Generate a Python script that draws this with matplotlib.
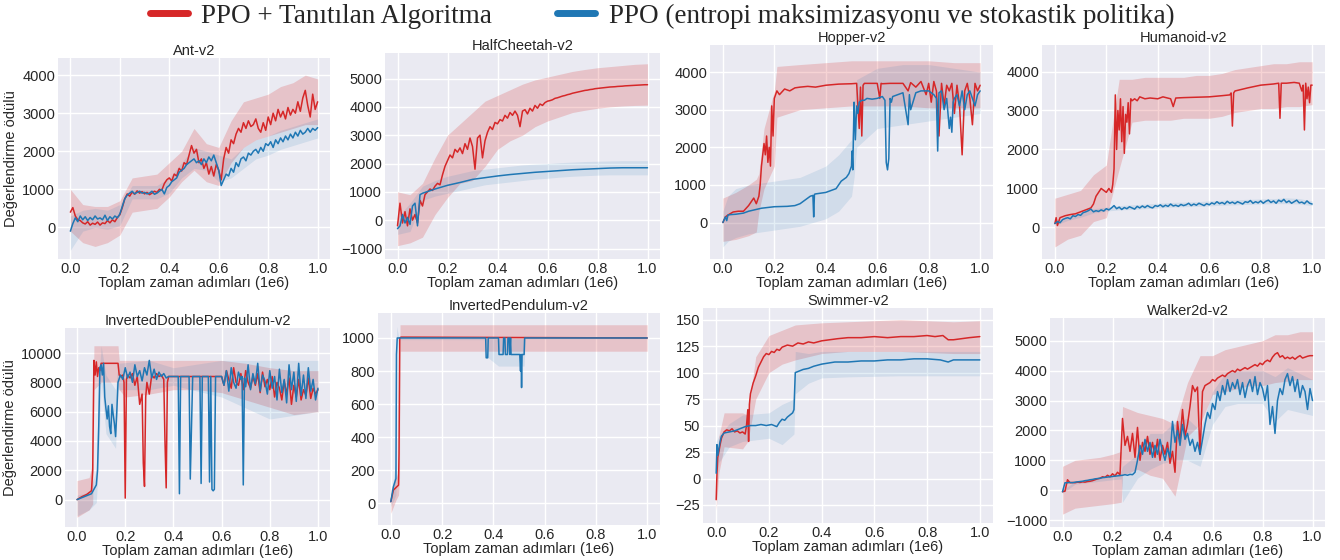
import numpy as np
import matplotlib
matplotlib.use("Agg")
import matplotlib.pyplot as plt
import seaborn as sns
from matplotlib.lines import Line2D

# ---------------- common x grids (in units of 1e6 steps) ----------------
X01 = np.round(np.arange(101) * 0.01, 2)
X05 = np.round(np.arange(21) * 0.05, 2)

LABEL_RED = "PPO + Tanıtılan Algoritma"
LABEL_BLUE = "PPO (entropi maksimizasyonu ve stokastik politika)"
XLABEL = "Toplam zaman adımları (1e6)"
YLABEL = "Değerlendirme ödülü"
TITLES = ["Ant-v2", "HalfCheetah-v2", "Hopper-v2", "Humanoid-v2",
          "InvertedDoublePendulum-v2", "InvertedPendulum-v2", "Swimmer-v2", "Walker2d-v2"]

# ---------------- Ant-v2 ----------------
ANT_RED = [400, 520, 300, 200, 180, 120, 90, 150, 60, 110,
           80, 140, 60, 120, 100, 180, 120, 200, 150, 260,
           330, 520, 750, 880, 820, 930, 870, 960, 900, 940,
           880, 920, 860, 900, 950, 920, 1000, 980, 1150, 1250,
           1300, 1220, 1400, 1350, 1550, 1480, 1700, 1650, 1900, 2150,
           1950, 2050, 1700, 1800, 1550, 1700, 1400, 1600, 1350, 1650,
           1500, 1250, 1800, 2100, 1950, 2300, 2200, 2450, 2600, 2500,
           2750, 2600, 2800, 2650, 2700, 2850, 2600, 2500, 2750, 2550,
           2900, 2700, 3000, 2800, 3100, 2900, 3050, 2850, 3150, 2950,
           3100, 3000, 3300, 3050, 3400, 3600, 3200, 2900, 3500, 3100, 3300]
ANT_BLUE = [-100, 100, 250, 150, 300, 200, 280, 180, 260, 200,
            300, 220, 250, 200, 320, 180, 280, 220, 300, 250,
            350, 550, 750, 850, 900, 950, 880, 920, 950, 900,
            920, 880, 900, 950, 870, 900, 950, 1000, 880, 1050,
            1100, 1200, 1250, 1300, 1450, 1500, 1550, 1650, 1700, 1750,
            1800, 1700, 1750, 1650, 1800, 1700, 1850, 1750, 1900, 1700,
            1500, 1100, 1250, 1400, 1350, 1550, 1450, 1700, 1600, 1800,
            1850, 1750, 1950, 1900, 2000, 2050, 1950, 2100, 2000, 2200,
            2150, 2250, 2100, 2300, 2200, 2350, 2250, 2400, 2300, 2450,
            2350, 2500, 2400, 2550, 2450, 2500, 2600, 2500, 2600, 2550, 2620]
ANT_RED_LO = [-100, -400, -500, -400, -200, 400, 450, 500, 800, 1200, 1500,
              1200, 1100, 1700, 2100, 2300, 2400, 2500, 2600, 2700, 2700]
ANT_RED_HI = [1000, 600, 550, 550, 700, 1300, 1350, 1400, 1700, 2000, 2600,
              2200, 2100, 2800, 3300, 3400, 3500, 3700, 3800, 4000, 3900]
ANT_BLUE_LO = [-600, -100, 0, -50, 50, 750, 750, 750, 900, 1300, 1550,
               1500, 1200, 1300, 1550, 1800, 1900, 2050, 2150, 2250, 2350]
ANT_BLUE_HI = [300, 450, 500, 450, 600, 1100, 1100, 1100, 1300, 1700, 2100,
               2000, 1900, 1800, 2100, 2300, 2400, 2550, 2650, 2750, 2850]

# ---------------- HalfCheetah-v2 ----------------
HC_RED = [-200, 600, -100, 300, -200, 400, 0, 200, -100, 700,
          500, 900, 1000, 1100, 1050, 1200, 1300, 1250, 1600, 1900,
          2100, 2300, 2200, 2500, 2400, 2550, 2350, 2700, 2500, 2900,
          2600, 1800, 2900, 3000, 2200, 2800, 3100, 3300, 3200, 3450,
          3400, 3550, 3500, 3700, 3600, 3800, 3700, 3850, 3700, 3300,
          3850, 3900, 3750, 3950, 3850, 4050, 3950, 4100, 4050, 4150,
          4200, 4220, 4250, 4300, 4320, 4350, 4380, 4400, 4430, 4450,
          4480, 4500, 4520, 4540, 4560, 4580, 4590, 4610, 4620, 4640,
          4650, 4660, 4670, 4680, 4690, 4700, 4705, 4710, 4720, 4725,
          4730, 4740, 4745, 4750, 4755, 4760, 4765, 4770, 4775, 4780, 4780]
HC_BLUE_X = [0, 0.01, 0.02, 0.03, 0.04, 0.05, 0.06, 0.07, 0.08, 0.09,
             0.1, 0.15, 0.2, 0.25, 0.3, 0.35, 0.4, 0.45, 0.5, 0.55,
             0.6, 0.65, 0.7, 0.75, 0.8, 0.85, 0.9, 0.95, 1.0]
HC_BLUE = [-300, -200, 200, -100, 100, -150, 500, 600, -200, 900,
           950, 1100, 1230, 1330, 1440, 1500, 1560, 1610, 1650, 1690,
           1720, 1750, 1780, 1800, 1820, 1840, 1850, 1850, 1850]
HC_RED_LO = [-900, -800, -600, 200, 800, 1300, 1400, 1900, 2500, 2800, 3000,
             3300, 3500, 3650, 3800, 3880, 3950, 4000, 4030, 4050, 4060]
HC_RED_HI = [1000, 900, 1300, 2200, 3000, 3400, 3800, 4200, 4400, 4600, 4800,
             4950, 5050, 5150, 5250, 5320, 5380, 5420, 5460, 5500, 5520]
HC_BLUE_LO = [-500, -400, 700, 850, 950, 1050, 1150, 1250, 1300, 1350, 1400,
              1450, 1480, 1520, 1550, 1570, 1590, 1600, 1600, 1600, 1600]
HC_BLUE_HI = [100, 600, 1200, 1400, 1550, 1650, 1750, 1800, 1850, 1900, 1950,
              1980, 2000, 2030, 2050, 2070, 2080, 2090, 2100, 2100, 2100]

# ---------------- Hopper-v2 ----------------
HOP_RED_X = [0, 0.01, 0.02, 0.04, 0.06, 0.08, 0.1, 0.11, 0.12, 0.13,
             0.14, 0.145, 0.15, 0.16, 0.165, 0.17, 0.175, 0.18, 0.185, 0.19,
             0.195, 0.2, 0.205, 0.21, 0.22, 0.24, 0.26, 0.28, 0.3, 0.33,
             0.36, 0.4, 0.45, 0.5, 0.52, 0.53, 0.535, 0.54, 0.545, 0.55,
             0.6, 0.61, 0.615, 0.62, 0.65, 0.7, 0.72, 0.73, 0.75, 0.77,
             0.79, 0.8, 0.81, 0.82, 0.83, 0.84, 0.85, 0.86, 0.87, 0.88,
             0.89, 0.9, 0.91, 0.92, 0.93, 0.94, 0.95, 0.96, 0.97, 0.98,
             0.99, 1.0]
HOP_RED = [0, 150, 200, 280, 300, 300, 450, 550, 650, 500,
           700, 1000, 1500, 2100, 1800, 2300, 1600, 2000, 1500, 3100,
           2300, 3300, 3400, 3500, 3400, 3550, 3500, 3580, 3600, 3620,
           3600, 3650, 3680, 3690, 3700, 2500, 3600, 2300, 3650, 3700,
           3700, 3300, 3700, 3690, 3700, 3700, 3500, 3720, 3600, 3750,
           3400, 3700, 3200, 3750, 3500, 2300, 3700, 3100, 3650, 3500,
           3700, 2900, 3650, 3100, 1800, 3500, 3700, 3300, 2600, 3700,
           3500, 3650]
HOP_BLUE_X = [0, 0.01, 0.015, 0.02, 0.03, 0.05, 0.08, 0.1, 0.15, 0.2,
              0.25, 0.28, 0.3, 0.32, 0.34, 0.35, 0.353, 0.356, 0.36, 0.38,
              0.4, 0.42, 0.44, 0.45, 0.46, 0.47, 0.48, 0.49, 0.5, 0.502,
              0.505, 0.508, 0.51, 0.512, 0.515, 0.52, 0.525, 0.53, 0.54, 0.55,
              0.56, 0.58, 0.6, 0.62, 0.63, 0.635, 0.64, 0.645, 0.65, 0.655,
              0.66, 0.68, 0.7, 0.72, 0.725, 0.73, 0.75, 0.77, 0.8, 0.82,
              0.83, 0.835, 0.84, 0.85, 0.86, 0.87, 0.88, 0.885, 0.89, 0.895,
              0.9, 0.91, 0.92, 0.93, 0.94, 0.95, 0.96, 0.97, 0.98, 0.99,
              1.0]
HOP_BLUE = [0, 150, 50, 200, 210, 220, 250, 300, 380, 420,
            430, 450, 500, 600, 700, 720, 150, 750, 760, 780,
            800, 850, 900, 1000, 1100, 1150, 1200, 1300, 1500, 1900,
            1400, 2500, 3200, 2800, 2200, 3100, 2900, 3200, 3250, 3250,
            3300, 3280, 3300, 3350, 3250, 1600, 1400, 1700, 3300, 3200,
            3350, 3400, 3450, 2600, 3400, 3000, 3450, 3500, 3500, 3400,
            3300, 1900, 3450, 3500, 3000, 3300, 2500, 2800, 2400, 3200,
            3300, 3400, 3100, 3500, 3000, 3400, 3500, 3300, 3100, 3400,
            3500]
HOP_RED_BX = [0, 0.05, 0.1, 0.13, 0.14, 0.16, 0.2, 0.21, 0.3, 0.4, 0.5, 0.6, 0.7, 0.8, 0.9, 1.0]
HOP_RED_LO = [-500, -450, -350, -250, 300, 900, 1500, 2800, 3000, 3050, 3100, 3100, 3100, 3050, 3050, 3050]
HOP_RED_HI = [650, 800, 1000, 1150, 1300, 2500, 3500, 4150, 4200, 4250, 4300, 4300, 4300, 4300, 4250, 4250]
HOP_BLUE_BX = [0, 0.02, 0.05, 0.1, 0.2, 0.3, 0.4, 0.45, 0.5, 0.51, 0.52, 0.6, 0.7, 0.8, 0.9, 1.0]
HOP_BLUE_LO = [-650, -500, -400, -300, -200, -100, 100, 300, 700, 1200, 2000, 2500, 2600, 2700, 2800, 2900]
HOP_BLUE_HI = [300, 700, 900, 1000, 1100, 1200, 1500, 1800, 2200, 3000, 3800, 4100, 4200, 4200, 4100, 4000]

# ---------------- Humanoid-v2 ----------------
HUM_RED_X = [0, 0.005, 0.01, 0.02, 0.04, 0.06, 0.08, 0.1, 0.12, 0.14,
             0.15, 0.16, 0.17, 0.18, 0.19, 0.2, 0.21, 0.22, 0.225, 0.23,
             0.235, 0.24, 0.245, 0.25, 0.255, 0.26, 0.265, 0.27, 0.275, 0.28,
             0.285, 0.29, 0.295, 0.3, 0.31, 0.32, 0.33, 0.35, 0.37, 0.4,
             0.42, 0.45, 0.46, 0.47, 0.5, 0.55, 0.6, 0.65, 0.68, 0.685,
             0.69, 0.695, 0.7, 0.75, 0.8, 0.85, 0.87, 0.875, 0.88, 0.9,
             0.93, 0.95, 0.96, 0.965, 0.97, 0.975, 0.98, 0.985, 0.99, 0.995,
             1.0]
HUM_RED = [100, 250, 50, 250, 300, 330, 350, 400, 450, 500,
           600, 800, 900, 1000, 950, 900, 1000, 900, 1100, 1500,
           3400, 2000, 3000, 2500, 3300, 2200, 3100, 1900, 2900, 2700,
           3200, 2400, 3300, 3250, 3300, 3250, 3350, 3300, 3320, 3300,
           3350, 3300, 3100, 3320, 3330, 3340, 3350, 3380, 3400, 3450,
           2600, 3450, 3500, 3580, 3650, 3680, 3700, 2800, 3700, 3700,
           3720, 3700, 3500, 3650, 2500, 3700, 3300, 3600, 3200, 3650,
           3650]
HUM_BLUE = [100, 150, 120, 200, 230, 250, 220, 300, 280, 330,
            310, 380, 400, 430, 470, 400, 430, 410, 450, 420,
            480, 450, 500, 560, 480, 520, 460, 510, 480, 530,
            500, 470, 540, 500, 550, 510, 560, 520, 500, 560,
            540, 580, 530, 570, 540, 600, 550, 570, 540, 590,
            560, 580, 620, 560, 600, 570, 620, 590, 560, 610,
            580, 630, 600, 660, 610, 640, 600, 670, 620, 650,
            610, 660, 630, 600, 660, 640, 690, 620, 660, 630,
            680, 620, 670, 700, 640, 680, 620, 700, 660, 720,
            640, 680, 620, 660, 700, 630, 650, 610, 680, 620, 600]
HUM_RED_LO = [-500, -300, -200, 150, 250, 1500, 2700, 2750, 2750, 2750, 2800,
              2800, 2800, 2850, 2950, 3000, 3050, 3050, 3100, 3100, 3150]
HUM_RED_HI = [750, 850, 950, 1350, 1600, 3800, 3800, 3850, 3850, 3850, 3850,
              3900, 3900, 3950, 4050, 4100, 4150, 4200, 4200, 4250, 4250]
HUM_BLUE_LO = [50, 180, 260, 370, 420, 450, 460, 480, 500, 520, 530,
               540, 550, 570, 580, 590, 600, 610, 610, 600, 560]
HUM_BLUE_HI = [150, 300, 380, 480, 520, 560, 580, 600, 620, 640, 650,
               660, 680, 700, 710, 720, 730, 740, 760, 740, 680]

# ---------------- InvertedDoublePendulum-v2 ----------------
IDP_RED_X = [0, 0.02, 0.04, 0.06, 0.065, 0.07, 0.075, 0.08, 0.085, 0.09,
             0.095, 0.1, 0.17, 0.175, 0.18, 0.19, 0.195, 0.2, 0.205, 0.21,
             0.22, 0.23, 0.24, 0.25, 0.26, 0.27, 0.275, 0.28, 0.285, 0.29,
             0.3, 0.31, 0.32, 0.33, 0.34, 0.35, 0.36, 0.365, 0.37, 0.375,
             0.38, 0.4, 0.5, 0.6, 0.61, 0.62, 0.63, 0.64, 0.65, 0.66,
             0.67, 0.68, 0.69, 0.7, 0.71, 0.72, 0.73, 0.74, 0.75, 0.76,
             0.77, 0.78, 0.79, 0.8, 0.81, 0.82, 0.83, 0.84, 0.85, 0.86,
             0.87, 0.88, 0.89, 0.9, 0.91, 0.92, 0.93, 0.94, 0.95, 0.96,
             0.97, 0.98, 0.99, 1.0]
IDP_RED = [0, 200, 350, 600, 2000, 9500, 8500, 9400, 8400, 9000,
           8800, 9300, 9300, 8500, 8400, 8500, 8000, 100, 8200, 8500,
           8300, 8600, 7800, 8400, 6500, 7200, 2500, 900, 7000, 8000,
           7200, 8500, 8300, 8600, 8400, 8500, 8200, 4000, 800, 8000,
           8400, 8400, 8400, 8400, 7800, 8800, 8200, 7600, 9000, 8000,
           7800, 8600, 7500, 8800, 8000, 7600, 8400, 7800, 8600, 7300,
           8700, 7700, 8200, 7500, 8400, 7000, 8000, 7600, 6800, 8100,
           7200, 8300, 6500, 7800, 7000, 8200, 6800, 7500, 7100, 8300,
           6900, 7600, 7200, 7500]
IDP_BLUE_X = [0, 0.03, 0.06, 0.08, 0.085, 0.09, 0.095, 0.1, 0.105, 0.11,
              0.115, 0.12, 0.125, 0.13, 0.135, 0.14, 0.145, 0.15, 0.155, 0.16,
              0.165, 0.17, 0.18, 0.19, 0.2, 0.21, 0.22, 0.23, 0.24, 0.25,
              0.26, 0.27, 0.28, 0.29, 0.3, 0.31, 0.32, 0.33, 0.34, 0.35,
              0.36, 0.37, 0.38, 0.39, 0.4, 0.42, 0.425, 0.43, 0.44, 0.46,
              0.465, 0.47, 0.48, 0.51, 0.515, 0.52, 0.53, 0.545, 0.55, 0.555,
              0.56, 0.565, 0.57, 0.575, 0.58, 0.6, 0.61, 0.62, 0.63, 0.64,
              0.65, 0.66, 0.67, 0.68, 0.685, 0.69, 0.695, 0.7, 0.71, 0.72,
              0.73, 0.74, 0.75, 0.76, 0.77, 0.78, 0.79, 0.8, 0.81, 0.82,
              0.83, 0.84, 0.85, 0.86, 0.87, 0.88, 0.89, 0.9, 0.91, 0.92,
              0.93, 0.94, 0.95, 0.96, 0.97, 0.98, 0.99, 1.0]
IDP_BLUE = [0, 200, 400, 1000, 2000, 5000, 9000, 9200, 8500, 9300,
            7000, 6200, 5500, 6400, 5000, 4500, 6500, 5800, 5200, 4300,
            6000, 8000, 8500, 8200, 9000, 8300, 8700, 8000, 9200, 8400,
            8800, 8100, 9000, 8500, 9500, 8300, 8900, 8200, 8700, 8400,
            8600, 8300, 8400, 8400, 8400, 8400, 400, 8400, 8400, 8400,
            8400, 1400, 8400, 8400, 1100, 8400, 8400, 8400, 1200, 8400,
            700, 600, 700, 8400, 8400, 8400, 7800, 8800, 7400, 9000,
            8000, 7600, 8700, 8200, 8400, 1000, 8300, 7700, 9200, 7500,
            8600, 7900, 9300, 7400, 8500, 8100, 7200, 8800, 7600, 8400,
            6800, 8900, 7300, 8200, 6600, 9200, 7500, 8700, 6700, 9300,
            7100, 8500, 6900, 9000, 7400, 8200, 6800, 7600]
IDP_RED_BX = [0, 0.05, 0.065, 0.07, 0.1, 0.17, 0.175, 0.2, 0.3, 0.4, 0.5, 0.6, 0.7, 0.8, 0.9, 1.0]
IDP_RED_LO = [-1200, -700, -300, 7500, 8000, 8000, 7500, 7000, 7200, 7500, 7500, 7300, 6800, 6300, 5800, 6000]
IDP_RED_HI = [1300, 1500, 2500, 10500, 10500, 10500, 9500, 9500, 9500, 9500, 9500, 9500, 9300, 9000, 8800, 8800]
IDP_BLUE_BX = [0, 0.05, 0.08, 0.09, 0.1, 0.12, 0.16, 0.17, 0.3, 0.4, 0.6, 0.8, 1.0]
IDP_BLUE_LO = [-1100, -700, -200, 3000, 8000, 4500, 3500, 7500, 7500, 7800, 7000, 5500, 6000]
IDP_BLUE_HI = [300, 500, 2000, 8000, 10500, 8500, 7500, 9300, 9500, 9000, 9500, 9500, 9500]

# ---------------- InvertedPendulum-v2 ----------------
IP_RED_X = [0, 0.01, 0.02, 0.03, 0.032, 0.035, 0.04, 1.0]
IP_RED = [10, 80, 95, 110, 300, 1000, 1005, 1000]
IP_BLUE_X = [0, 0.01, 0.02, 0.022, 0.025, 0.37, 0.372, 0.378, 0.38, 0.42,
             0.422, 0.438, 0.44, 0.445, 0.447, 0.455, 0.457, 0.462, 0.464, 0.467,
             0.469, 0.503, 0.506, 0.508, 0.51, 0.512, 0.52, 0.522, 1.0]
IP_BLUE = [10, 100, 150, 900, 1000, 1000, 880, 880, 1000, 1000,
           900, 900, 1000, 1000, 900, 900, 1000, 1000, 900, 1000,
           900, 900, 800, 900, 700, 900, 900, 1000, 1000]
IP_RED_BX = [0, 0.02, 0.03, 0.034, 0.036, 1.0]
IP_RED_LO = [-60, 20, 50, 150, 920, 920]
IP_RED_HI = [80, 150, 200, 600, 1080, 1080]
IP_BLUE_BX = [0, 0.02, 0.023, 0.03, 0.37, 0.38, 0.42, 0.52, 0.525, 1.0]
IP_BLUE_LO = [-20, 50, 900, 990, 990, 880, 830, 830, 995, 995]
IP_BLUE_HI = [40, 250, 1070, 1010, 1010, 1010, 1000, 1000, 1005, 1005]

# ---------------- Swimmer-v2 ----------------
SW_RED_X = [0, 0.003, 0.006, 0.01, 0.015, 0.02, 0.03, 0.04, 0.05, 0.06,
            0.07, 0.08, 0.09, 0.1, 0.11, 0.115, 0.12, 0.123, 0.126, 0.13,
            0.14, 0.15, 0.16, 0.17, 0.18, 0.19, 0.2, 0.21, 0.22, 0.23,
            0.24, 0.25, 0.27, 0.29, 0.31, 0.33, 0.35, 0.37, 0.4, 0.43,
            0.46, 0.5, 0.55, 0.6, 0.65, 0.7, 0.75, 0.8, 0.83, 0.86,
            0.88, 0.9, 0.93, 0.96, 1.0]
SW_RED = [-20, 5, 20, 25, 32, 38, 44, 46, 45, 47,
          44, 45, 43, 44, 42, 50, 65, 35, 70, 80,
          90, 97, 105, 110, 115, 118, 117, 120, 119, 122,
          121, 124, 126, 125, 128, 127, 129, 128, 130, 131,
          132, 133, 133, 134, 133, 134, 134, 135, 134, 135,
          131, 131, 132, 133, 134]
SW_BLUE_X = [0, 0.003, 0.006, 0.01, 0.015, 0.02, 0.03, 0.05, 0.07, 0.09,
             0.11, 0.13, 0.15, 0.17, 0.19, 0.21, 0.23, 0.24, 0.25, 0.26,
             0.27, 0.28, 0.29, 0.295, 0.3, 0.31, 0.33, 0.35, 0.37, 0.4,
             0.45, 0.5, 0.55, 0.6, 0.65, 0.7, 0.75, 0.8, 0.85, 0.88,
             0.9, 0.95, 1.0]
SW_BLUE = [5, 32, 22, 28, 35, 40, 43, 44, 45, 47,
           49, 50, 50, 51, 50, 51, 49, 53, 56, 55,
           58, 60, 62, 65, 100, 101, 103, 104, 106, 108,
           110, 110, 111, 111, 112, 112, 113, 113, 112, 110,
           112, 112, 112]
SW_RED_BX = [0, 0.01, 0.03, 0.1, 0.12, 0.15, 0.2, 0.25, 0.3, 0.4, 0.5, 0.7, 0.9, 1.0]
SW_RED_LO = [-30, 5, 30, 28, 35, 75, 100, 108, 112, 118, 120, 120, 118, 118]
SW_RED_HI = [0, 40, 62, 62, 60, 115, 135, 140, 145, 147, 148, 150, 148, 149]
SW_BLUE_BX = [0, 0.01, 0.05, 0.1, 0.2, 0.25, 0.295, 0.3, 0.35, 0.4, 0.5, 0.7, 0.9, 1.0]
SW_BLUE_LO = [-5, 15, 30, 35, 38, 32, 42, 80, 90, 95, 96, 97, 97, 97]
SW_BLUE_HI = [35, 40, 52, 60, 62, 70, 75, 120, 118, 120, 120, 120, 120, 120]

# ---------------- Walker2d-v2 ----------------
WK_RED = [-50, -30, 350, 250, 260, 250, 270, 260, 280, 270,
          290, 300, 320, 350, 380, 400, 450, 430, 500, 450,
          550, 480, 600, 520, 2400, 1500, 1800, 1300, 1900, 1100,
          2100, 1000, 1600, 1300, 1800, 1200, 1600, 1100, 1700, 1000,
          1500, 1200, 1600, 900, 1300, 600, 2300, 1600, 2700, 1800,
          2200, 2800, 3500, 3300, 3450, 1200, 3300, 3500, 3550, 3600,
          3700, 3650, 3750, 3800, 3850, 3800, 3900, 3950, 4000, 3950,
          4050, 4000, 4050, 4100, 4050, 4100, 4150, 4200, 4150, 4250,
          4200, 4300, 4350, 4300, 4450, 4550, 4600, 4450, 4500, 4400,
          4450, 4400, 4450, 4380, 4450, 4500, 4420, 4450, 4480, 4500, 4500]
WK_BLUE = [-50, 250, 250, 260, 250, 270, 280, 290, 300, 320,
           330, 350, 360, 380, 390, 400, 420, 430, 440, 450,
           460, 470, 480, 490, 500, 520, 500, 530, 520, 600,
           1000, 1500, 1200, 1700, 1300, 1600, 1100, 1500, 1200, 1700,
           1300, 1000, 1400, 1100, 2300, 1600, 2000, 1500, 2200, 1700,
           1900, 1500, 1700, 1300, 1600, 1200, 1700, 2200, 2600, 2400,
           2900, 2700, 3300, 3000, 3500, 3200, 3700, 3300, 3600, 3400,
           3700, 3200, 3600, 3100, 3500, 3700, 3300, 3800, 3200, 3600,
           3400, 3000, 3500, 2200, 2800, 1900, 3000, 3400, 3200, 3700,
           3900, 3500, 3800, 3300, 3700, 3100, 3500, 3300, 2700, 3400, 3000]
WK_BX = [0, 0.05, 0.1, 0.15, 0.2, 0.235, 0.24, 0.3, 0.35, 0.4, 0.45,
         0.5, 0.55, 0.6, 0.65, 0.7, 0.75, 0.8, 0.85, 0.9, 0.95, 1.0]
WK_RED_LO = [-800, -600, -550, -500, -450, -400, 500, 700, 500, 400, -200,
             1800, 2200, 3200, 3300, 3400, 3500, 3500, 3600, 3650, 3700, 3700]
WK_RED_HI = [800, 1000, 1050, 1100, 1200, 1300, 2800, 2600, 2500, 2400, 2200,
             3600, 4500, 4500, 4700, 4800, 4900, 5000, 5200, 5200, 5300, 5300]
WK_BLUE_LO = [-100, 200, 250, 300, 350, 380, -400, 400, 700, 900, 1000,
              1000, 800, 2200, 2800, 2900, 2900, 2900, 2300, 2700, 2600, 2500]
WK_BLUE_HI = [0, 300, 350, 450, 550, 650, 800, 1200, 1900, 1900, 2300,
              2400, 2000, 3300, 3900, 4000, 4000, 4000, 3800, 4100, 3900, 3700]

Y_LIMITS = [(-830, 4450), (-1370, 5900), (-970, 4720), (-810, 4680),
            (-1870, 11710), (-131, 1151), (-42, 161), (-1230, 5760)]
Y_TICKS = [np.arange(0, 4001, 1000), np.arange(-1000, 5001, 1000), np.arange(0, 4001, 1000),
           np.arange(0, 4001, 1000), np.arange(0, 10001, 2000), np.arange(0, 1001, 200),
           np.arange(-25, 151, 25), np.arange(-1000, 5001, 1000)]

PANELS = [
    dict(rx=X01, ry=ANT_RED, bx=X01, by=ANT_BLUE,
         rbx=X05, rlo=ANT_RED_LO, rhi=ANT_RED_HI, bbx=X05, blo=ANT_BLUE_LO, bhi=ANT_BLUE_HI),
    dict(rx=X01, ry=HC_RED, bx=HC_BLUE_X, by=HC_BLUE,
         rbx=X05, rlo=HC_RED_LO, rhi=HC_RED_HI, bbx=X05, blo=HC_BLUE_LO, bhi=HC_BLUE_HI),
    dict(rx=HOP_RED_X, ry=HOP_RED, bx=HOP_BLUE_X, by=HOP_BLUE,
         rbx=HOP_RED_BX, rlo=HOP_RED_LO, rhi=HOP_RED_HI, bbx=HOP_BLUE_BX, blo=HOP_BLUE_LO, bhi=HOP_BLUE_HI),
    dict(rx=HUM_RED_X, ry=HUM_RED, bx=X01, by=HUM_BLUE,
         rbx=X05, rlo=HUM_RED_LO, rhi=HUM_RED_HI, bbx=X05, blo=HUM_BLUE_LO, bhi=HUM_BLUE_HI),
    dict(rx=IDP_RED_X, ry=IDP_RED, bx=IDP_BLUE_X, by=IDP_BLUE,
         rbx=IDP_RED_BX, rlo=IDP_RED_LO, rhi=IDP_RED_HI, bbx=IDP_BLUE_BX, blo=IDP_BLUE_LO, bhi=IDP_BLUE_HI),
    dict(rx=IP_RED_X, ry=IP_RED, bx=IP_BLUE_X, by=IP_BLUE,
         rbx=IP_RED_BX, rlo=IP_RED_LO, rhi=IP_RED_HI, bbx=IP_BLUE_BX, blo=IP_BLUE_LO, bhi=IP_BLUE_HI),
    dict(rx=SW_RED_X, ry=SW_RED, bx=SW_BLUE_X, by=SW_BLUE,
         rbx=SW_RED_BX, rlo=SW_RED_LO, rhi=SW_RED_HI, bbx=SW_BLUE_BX, blo=SW_BLUE_LO, bhi=SW_BLUE_HI),
    dict(rx=X01, ry=WK_RED, bx=X01, by=WK_BLUE,
         rbx=WK_BX, rlo=WK_RED_LO, rhi=WK_RED_HI, bbx=WK_BX, blo=WK_BLUE_LO, bhi=WK_BLUE_HI),
]

# axes rectangles in pixels: left, right, top, bottom (figure 1340 x 560)
AX_PX = [(58, 330, 58, 259), (385, 660, 53, 259), (710, 993, 45, 259), (1042, 1325, 45, 259),
         (65, 330, 328, 527), (378, 660, 313, 525), (703, 993, 308, 523), (1050, 1325, 318, 527)]

RED = "#d62728"
BLUE = "#1f77b4"
W, H = 1340, 560

sns.set_style("darkgrid")
plt.rcParams["font.family"] = ["Liberation Sans", "DejaVu Sans"]
plt.rcParams["text.color"] = "#262626"
plt.rcParams["axes.labelcolor"] = "#262626"
plt.rcParams["xtick.color"] = "#262626"
plt.rcParams["ytick.color"] = "#262626"

fig = plt.figure(figsize=(W / 100, H / 100), dpi=100)

for i, p in enumerate(PANELS):
    l, r, t, b = AX_PX[i]
    ax = fig.add_axes([l / W, 1 - b / H, (r - l) / W, (b - t) / H])
    ax.set_facecolor("#EAEAF2")
    ax.fill_between(p["rbx"], p["rlo"], p["rhi"], color=RED, alpha=0.2, linewidth=0)
    ax.fill_between(p["bbx"], p["blo"], p["bhi"], color=BLUE, alpha=0.12, linewidth=0)
    ax.plot(p["rx"], p["ry"], color=RED, linewidth=1.1)
    ax.plot(p["bx"], p["by"], color=BLUE, linewidth=1.1)
    ax.set_xlim(-0.05, 1.05)
    ax.set_ylim(*Y_LIMITS[i])
    ax.set_xticks([0.0, 0.2, 0.4, 0.6, 0.8, 1.0])
    ax.set_xticklabels(["0.0", "0.2", "0.4", "0.6", "0.8", "1.0"])
    ax.set_yticks(Y_TICKS[i])
    ax.tick_params(labelsize=10.5, length=0, pad=2)
    ax.grid(True, color="white", linewidth=1.0)
    for s in ax.spines.values():
        s.set_visible(False)
    ax.set_title(TITLES[i], fontsize=10.5, pad=2)
    ax.set_xlabel(XLABEL, fontsize=10.5, labelpad=0)
    if i in (0, 4):
        ax.set_ylabel(YLABEL, fontsize=10.5, labelpad=3)

handles = [Line2D([], [], color=RED, linewidth=5), Line2D([], [], color=BLUE, linewidth=5)]
fig.legend(handles, [LABEL_RED, LABEL_BLUE], loc="center", bbox_to_anchor=(662 / W, 1 - 16 / H),
           ncol=2, frameon=False, prop={"family": "Liberation Serif", "size": 19.5},
           handlelength=1.4, handletextpad=0.5, columnspacing=2.4,
           borderpad=0.1, borderaxespad=0.1)

fig.savefig("out.png", dpi=100)
